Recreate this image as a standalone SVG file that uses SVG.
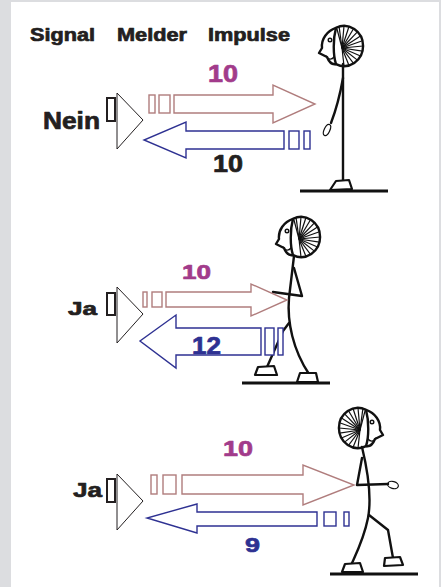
<svg xmlns="http://www.w3.org/2000/svg" xmlns:xlink="http://www.w3.org/1999/xlink" width="441" height="587" viewBox="0 0 441 587">
  <style>
    .lbl { font-family: "Liberation Sans", Arial, sans-serif; font-weight: bold; fill: #231f20; stroke: #231f20; stroke-width: 0.7; stroke-linejoin: round; }
    .mag { fill: #a23b8b; stroke: #a23b8b; }
    .blu { fill: #2e3192; stroke: #2e3192; }
    .out { fill: #ffffff; stroke: #b07d7d; stroke-width: 1.4; }
    .ret { fill: #ffffff; stroke: #2e3192; stroke-width: 1.4; }
    .box { fill: #ffffff; stroke: #231f20; stroke-width: 2; }
    .horn { fill: none; stroke: #231f20; stroke-width: 1; }
    .line { fill: none; stroke: #111111; stroke-width: 2.4; stroke-linecap: round; stroke-linejoin: round; }
    .thin { fill: none; stroke: #111111; stroke-width: 1.4; stroke-linecap: round; }
    .foot { fill: #ffffff; stroke: #111111; stroke-width: 2.2; stroke-linejoin: round; }
    .ground { stroke: #111111; stroke-width: 3; }
  </style>
  <defs>
    <!-- head facing left, origin at the middle of the head -->
    <g id="head">
      <path fill="#ffffff" class="line" d="M-5,-17.1 A19 20 0 1 1 -5,19.1 C-9,20 -12,17 -14,12 L-22,8 L-19,3 C-20,-6 -14,-14 -5,-17.1 Z"/>
      <path class="line" d="M-5,-17.1 C-8,-6 -8,10 -5,19.1"/>
      <circle cx="-11" cy="-5" r="1.8" fill="none" stroke="#111" stroke-width="1.4"/>
      <path class="thin" d="M-15,11 C-13,15 -9,15 -7,12"/>
      <!-- hair: strands fanning out from one point -->
      <g stroke="#111" stroke-width="1.2">
        <line x1="1" y1="3" x2="-1.9" y2="-18.3"/>
        <line x1="1" y1="3" x2="3" y2="-19"/>
        <line x1="1" y1="3" x2="7.9" y2="-18.3"/>
        <line x1="1" y1="3" x2="12.5" y2="-16.3"/>
        <line x1="1" y1="3" x2="16.4" y2="-13.1"/>
        <line x1="1" y1="3" x2="19.5" y2="-9"/>
        <line x1="1" y1="3" x2="21.4" y2="-4.2"/>
        <line x1="1" y1="3" x2="22" y2="1"/>
        <line x1="1" y1="3" x2="21.4" y2="6.2"/>
        <line x1="1" y1="3" x2="19.5" y2="11"/>
        <line x1="1" y1="3" x2="16.4" y2="15.1"/>
        <line x1="1" y1="3" x2="12.5" y2="18.3"/>
        <line x1="1" y1="3" x2="7.9" y2="20.3"/>
        <line x1="1" y1="3" x2="3" y2="21"/>
        <line x1="1" y1="3" x2="-4" y2="-16"/>
      </g>
    </g>
  </defs>

  <!-- page background -->
  <rect x="0" y="0" width="441" height="587" fill="#dcdde0"/>
  <rect x="11" y="2" width="428" height="585" fill="#ffffff"/>

  <!-- column headings -->
  <g id="headings">
    <text class="lbl" font-size="18" x="30" y="41" textLength="65" lengthAdjust="spacingAndGlyphs">Signal</text>
    <text class="lbl" font-size="18" x="117" y="41" textLength="70" lengthAdjust="spacingAndGlyphs">Melder</text>
    <text class="lbl" font-size="18" x="208" y="41" textLength="82" lengthAdjust="spacingAndGlyphs">Impulse</text>
  </g>

  <!-- row 1: standing person, answer Nein -->
  <g id="signal-1">
    <text class="lbl" x="43" y="129" font-size="23" textLength="57" lengthAdjust="spacingAndGlyphs">Nein</text>
  </g>
  <g id="melder-1">
    <rect class="box" x="107" y="98" width="8" height="23"/>
    <path class="horn" d="M117,93 L117,149 L143,120 Z"/>
  </g>
  <g id="person-1">
    <path class="line" d="M343,64 L343,182"/>
    <path class="line" d="M343,78 C340,95 336,110 331,123"/>
    <ellipse cx="327" cy="130" rx="2.8" ry="6" transform="rotate(25 327 130)" fill="none" stroke="#111" stroke-width="1.2"/>
    <use xlink:href="#head" href="#head" transform="translate(341,45)"/>
    <path class="foot" d="M336,181 L349,180 L352,189 L330,190 Z"/>
    <line class="ground" x1="300" y1="191" x2="388" y2="191"/>
  </g>

  <!-- row 2: approaching person, answer Ja -->
  <g id="signal-2">
    <text class="lbl" x="68" y="315" font-size="19" textLength="29" lengthAdjust="spacingAndGlyphs">Ja</text>
  </g>
  <g id="melder-2">
    <rect class="box" x="107" y="293" width="8" height="22"/>
    <path class="horn" d="M117,287 L117,343 L143,314 Z"/>
  </g>
  <g id="person-2">
    <path class="line" d="M294,256 L289,298 C287,322 293,350 309,374"/>
    <path class="line" d="M294,268 L302,296 L273,292"/>
    <path class="line" d="M289,323 L283,331 L267,367"/>
    <use xlink:href="#head" href="#head" transform="translate(298,236)"/>
    <path class="foot" d="M258,367 L274,366 L277,375 L255,375 Z"/>
    <path class="foot" d="M300,373 L316,373 L318,382 L297,382 Z"/>
    <line class="ground" x1="242" y1="383" x2="330" y2="383"/>
  </g>

  <!-- row 3: departing person, answer Ja -->
  <g id="signal-3">
    <text class="lbl" x="73" y="497" font-size="21" textLength="29" lengthAdjust="spacingAndGlyphs">Ja</text>
  </g>
  <g id="melder-3">
    <rect class="box" x="107" y="479" width="8" height="23"/>
    <path class="horn" d="M117,474 L117,530 L143,501 Z"/>
  </g>
  <g id="person-3">
    <path class="line" d="M362,447 C368,472 372,497 368,518 C364,538 357,552 352,563"/>
    <path class="line" d="M362,458 L357,485 L388,484"/>
    <ellipse cx="393" cy="485" rx="5.5" ry="3.5" transform="rotate(15 393 485)" fill="none" stroke="#111" stroke-width="1.2"/>
    <path class="line" d="M369,515 L388,530 L393,558"/>
    <use xlink:href="#head" href="#head" transform="translate(361,427) scale(-1,1)"/>
    <path class="foot" d="M345,564 L360,563 L363,572 L342,572 Z"/>
    <path class="foot" d="M385,558 L400,557 L403,565 L384,566 Z"/>
    <line class="ground" x1="330" y1="574" x2="418" y2="574"/>
  </g>

  <!-- impulse arrows -->
  <g id="connectors">
    <!-- row 1 -->
    <rect class="out" x="149" y="95" width="6" height="18"/>
    <rect class="out" x="159" y="95" width="11" height="18"/>
    <path class="out" d="M174,95 L273,95 L273,85 L315,104 L273,123 L273,113 L174,113 Z"/>
    <path class="ret" d="M284,131 L186,131 L186,122 L144,140 L186,158 L186,149 L284,149 Z"/>
    <rect class="ret" x="289" y="131" width="10" height="18"/>
    <rect class="ret" x="304" y="131" width="6" height="18"/>
    <!-- row 2 -->
    <rect class="out" x="143" y="292" width="4" height="15"/>
    <rect class="out" x="152" y="292" width="10" height="15"/>
    <path class="out" d="M166,292 L251,292 L251,284 L287,300 L251,316 L251,307 L166,307 Z"/>
    <path class="ret" d="M261,328 L176,328 L176,315 L140,341 L176,368 L176,355 L261,355 Z"/>
    <rect class="ret" x="265" y="328" width="9" height="27"/>
    <rect class="ret" x="278" y="328" width="5" height="27"/>
    <!-- row 3 -->
    <rect class="out" x="151" y="475" width="6" height="19"/>
    <rect class="out" x="163" y="475" width="13" height="19"/>
    <path class="out" d="M182,475 L303,475 L303,465 L354,485 L303,505 L303,494 L182,494 Z"/>
    <path class="ret" d="M317,512 L197,512 L197,504 L147,518 L197,533 L197,526 L317,526 Z"/>
    <rect class="ret" x="324" y="512" width="12" height="14"/>
    <rect class="ret" x="344" y="512" width="5" height="14"/>
  </g>

  <!-- impulse counts -->
  <g id="counts">
    <text class="lbl mag" x="208" y="82" font-size="23" textLength="30" lengthAdjust="spacingAndGlyphs">10</text>
    <text class="lbl" x="213" y="172" font-size="23" textLength="30" lengthAdjust="spacingAndGlyphs">10</text>
    <text class="lbl mag" x="182" y="279" font-size="21" textLength="29" lengthAdjust="spacingAndGlyphs">10</text>
    <text class="lbl blu" x="192" y="354" font-size="23" textLength="29" lengthAdjust="spacingAndGlyphs">12</text>
    <text class="lbl mag" x="223" y="456" font-size="22" textLength="30" lengthAdjust="spacingAndGlyphs">10</text>
    <text class="lbl blu" x="245" y="552" font-size="21" textLength="15" lengthAdjust="spacingAndGlyphs">9</text>
  </g>
</svg>
